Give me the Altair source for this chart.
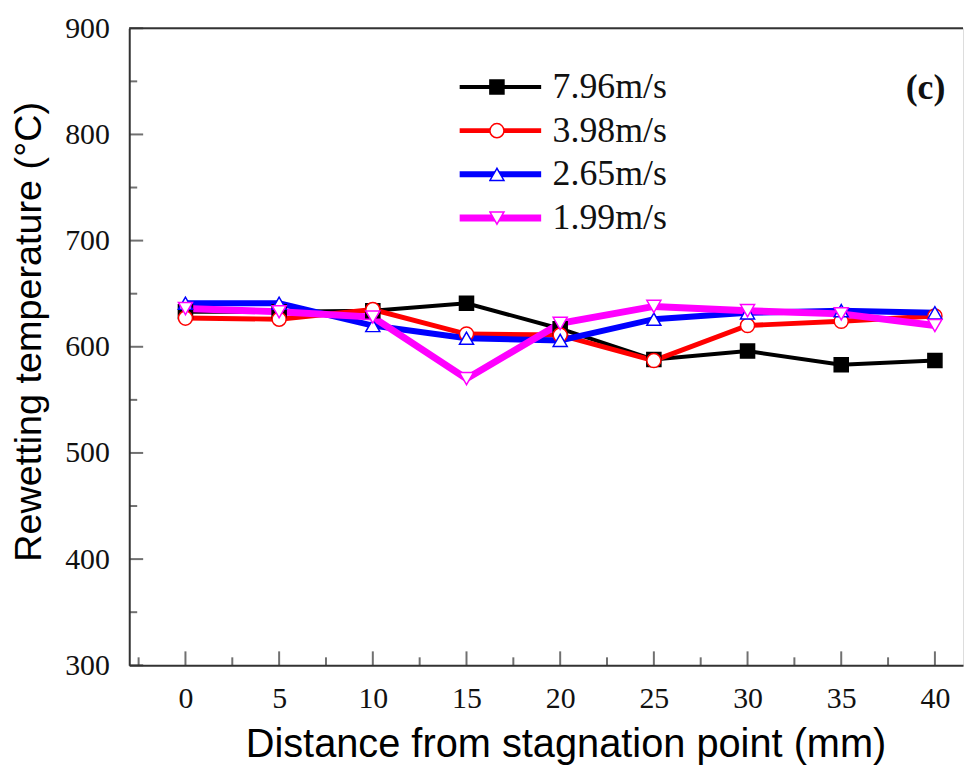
import altair as alt
import pandas as pd

distance = [0, 5, 10, 15, 20, 25, 30, 35, 40]
series = ["7.96m/s", "3.98m/s", "2.65m/s", "1.99m/s"]
v796 = [633, 633, 634, 641, 617, 588, 596, 583, 587]
v398 = [627, 626, 635, 612, 611, 587, 620, 624, 629]
v265 = [641, 641, 620, 608, 606, 626, 632, 634, 632]
v199 = [636, 633, 628, 570, 622, 638, 634, 631, 620]
colors = ["#000000", "#ff0000", "#0000ff", "#ff00ff"]
fills = ["#000000", "#ffffff", "#ffffff", "#ffffff"]
shapes = ["square", "circle", "triangle-up", "triangle-down"]
line_widths = [4, 7, 7, 6]

x_major = [0, 5, 10, 15, 20, 25, 30, 35, 40]
x_minor = [-2.5, 2.5, 7.5, 12.5, 17.5, 22.5, 27.5, 32.5, 37.5]
y_major = [300, 400, 500, 600, 700, 800, 900]
y_minor = [350, 450, 550, 650, 750, 850]

# marker series keys (distinct domain so the marker legend stays separate from the line legend)
series_pts = [s + " " for s in series]

rows = []
for s, sp, vals in zip(series, series_pts, [v796, v398, v265, v199]):
    for d, v in zip(distance, vals):
        rows.append({"x": d, "y": v, "sl": s, "sp": sp})
df = pd.DataFrame(rows)

xs = alt.Scale(domain=[-3, 41.5], nice=False, zero=False)
ys = alt.Scale(domain=[300, 900], nice=False, zero=False)

xaxis = alt.Axis(values=x_major, ticks=False, tickSize=0, grid=False,
                 domainColor="#333333", domainWidth=2,
                 labelFont="Liberation Serif", labelFontSize=30, labelColor="#111111",
                 labelPadding=33, labelBaseline="middle",
                 title="Distance from stagnation point (mm)",
                 titleFont="Liberation Sans", titleFontSize=40, titleFontWeight="normal",
                 titleColor="#000000", titleX=439, titleY=92, titleAlign="center",
                 titleBaseline="alphabetic", titleAnchor="start")
yaxis = alt.Axis(values=y_major, ticks=False, tickSize=0, grid=False,
                 domainColor="#333333", domainWidth=2,
                 labelFont="Liberation Serif", labelFontSize=30, labelColor="#111111",
                 labelPadding=20, labelBaseline="middle", labelOverlap=False,
                 title="Rewetting temperature (°C)",
                 titleFont="Liberation Sans", titleFontSize=38, titleFontWeight="normal",
                 titleColor="#000000", titleX=-100, titleY=305, titleAlign="center",
                 titleBaseline="middle", titleAngle=270, titleAnchor="start")

X = alt.X("x:Q", scale=xs, axis=xaxis)
Y = alt.Y("y:Q", scale=ys, axis=yaxis)

base = alt.Chart(df)

lines = base.mark_line().encode(
    x=X, y=Y,
    stroke=alt.Stroke("sl:N", scale=alt.Scale(domain=series, range=colors),
                      legend=alt.Legend(orient="none", legendX=329, legendY=41, title=None,
                                        symbolType="stroke", symbolSize=6724,
                                        symbolStrokeWidth=7, clipHeight=36, rowPadding=8,
                                        padding=0, labelOffset=8,
                                        labelFont="Liberation Serif", labelFontSize=36,
                                        labelColor="#111111", labelBaseline="middle")),
    strokeWidth=alt.StrokeWidth("sl:N", scale=alt.Scale(domain=series, range=line_widths),
                                legend=None),
)

points = base.mark_point(filled=False, opacity=1, strokeWidth=1.5, size=200).encode(
    x=X, y=Y,
    color=alt.Color("sp:N", scale=alt.Scale(domain=series_pts, range=colors),
                    legend=alt.Legend(orient="none", legendX=362, legendY=41, title=None,
                                      symbolSize=200, symbolStrokeWidth=1.5,
                                      clipHeight=36, rowPadding=8, padding=0,
                                      labelExpr="''", labelFontSize=2)),
    fill=alt.Fill("sp:N", scale=alt.Scale(domain=series_pts, range=fills)),
    shape=alt.Shape("sp:N", scale=alt.Scale(domain=series_pts, range=shapes)),
)

top_rule = alt.Chart(pd.DataFrame({"y": [900]})).mark_rule(
    color="#333333", strokeWidth=2).encode(y=Y)

xt_major = alt.Chart(pd.DataFrame({"x": x_major})).mark_tick(
    color="#333333", thickness=2, size=14).encode(x=X, y=alt.value(634))
xt_minor = alt.Chart(pd.DataFrame({"x": x_minor})).mark_tick(
    color="#333333", thickness=2, size=8).encode(x=X, y=alt.value(637))
yt_major = alt.Chart(pd.DataFrame({"y": y_major})).mark_tick(
    color="#333333", thickness=2, size=14).encode(y=Y, x=alt.value(7))
yt_minor = alt.Chart(pd.DataFrame({"y": y_minor})).mark_tick(
    color="#333333", thickness=2, size=8).encode(y=Y, x=alt.value(4))

label_c = alt.Chart(pd.DataFrame({"x": [39.5], "y": [844], "t": ["(c)"]})).mark_text(
    font="Liberation Serif", fontSize=36, fontWeight="bold", color="#111111",
    baseline="middle", align="center").encode(x=X, y=Y, text="t:N")

chart = alt.layer(top_rule, xt_major, xt_minor, yt_major, yt_minor, lines, points, label_c).properties(
    width=839, height=641,
    autosize=alt.AutoSizeParams(type="none"),
    padding={"left": 122, "top": 18, "right": 2, "bottom": 106},
).configure_view(stroke=None).configure(background="white")

chart.save("out.html", embed_options={"renderer": "svg", "actions": False})
